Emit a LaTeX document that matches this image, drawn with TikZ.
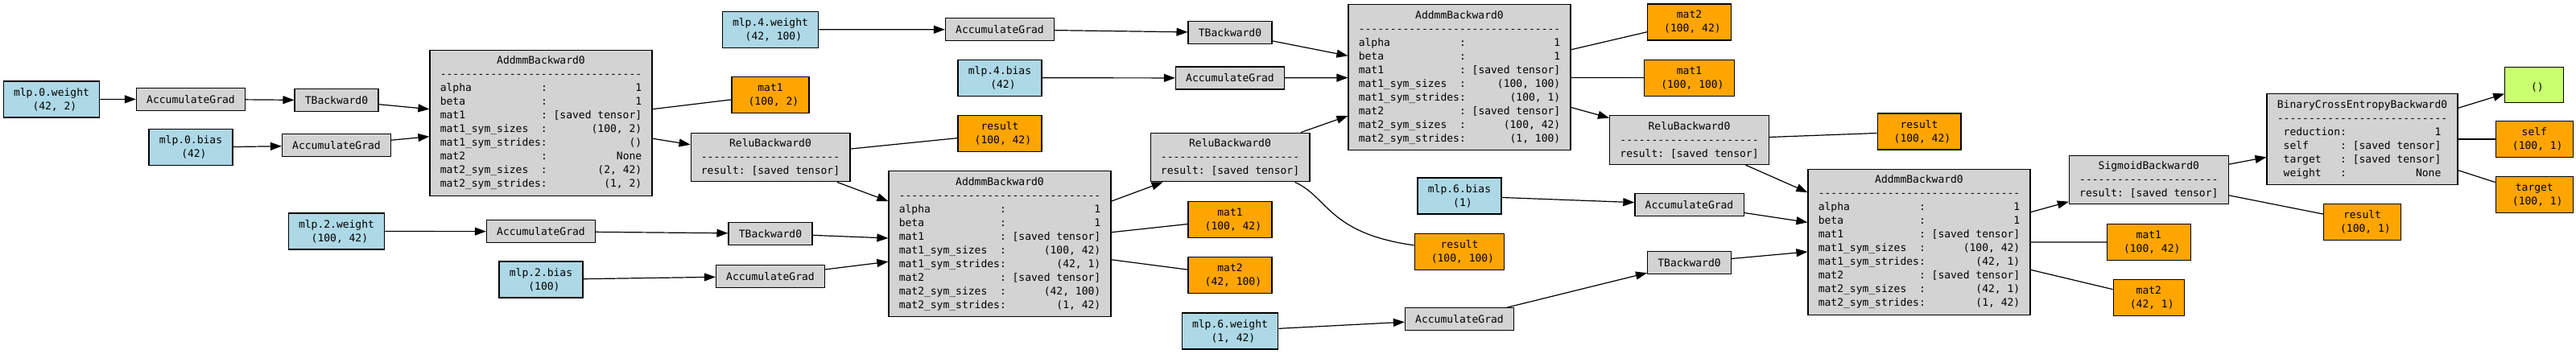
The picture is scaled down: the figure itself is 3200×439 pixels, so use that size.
\documentclass[tikz,border=0pt]{standalone}
\usepackage{fontspec}
\setmonofont{DejaVu Sans Mono}
\usepackage{xcolor}
\usepackage{tikz}
\usetikzlibrary{arrows.meta}

\definecolor{gvgray}{HTML}{D3D3D3}
\definecolor{gvblue}{HTML}{ADD8E6}
\definecolor{gvorange}{HTML}{FFA500}
\definecolor{gvgreen}{HTML}{CAFF70}

\newcommand\gvfont{\ttfamily\fontsize{13}{17}\selectfont}
\newlength\cw
\newcommand\tsize[1]{\hspace*{\cw}#1}
\newcommand\dashes[1]{\foreach \i in {1,...,#1}{-}}
\newcommand\arow[2]{\makebox[16\cw][l]{#1}:\makebox[15\cw][r]{#2}}
\newcommand\brow[2]{\makebox[9\cw][l]{#1}:\makebox[15\cw][r]{#2}}

\tikzset{
  gvbox/.style={
    draw, line width=1.2pt, align=center, font=\gvfont,
    inner xsep=12.8pt, inner ysep=7.5pt, minimum width=72.5pt
  },
  gradbox/.style={gvbox, fill=gvgray, minimum height=28pt},
  leafbox/.style={gvbox, fill=gvblue, minimum height=45pt},
  savedbox/.style={gvbox, fill=gvorange, minimum height=45pt},
  outbox/.style={gvbox, fill=gvgreen, minimum height=44pt},
  gvarrow/.style={-{Triangle[length=14pt,width=10pt]}, line width=1.2pt},
  gvline/.style={line width=1.2pt},
}

\begin{document}
\settowidth\cw{\gvfont 0}
\begin{tikzpicture}[x=1pt, y=-1pt]
  \useasboundingbox (0,0) rectangle (3200,439);

  % Layer 0
  \node[leafbox] (leaf0w) at (64,123.5) {mlp.0.weight\\\tsize{(42, 2)}};
  \node[gradbox] (ag0w) at (237,123.3) {AccumulateGrad};
  \node[gradbox] (tb0) at (418,124.7) {TBackward0};
  \node[leafbox] (leaf0b) at (237,183.3) {mlp.0.bias\\\tsize{(42)}};
  \node[gradbox] (ag0b) at (418,180.7) {AccumulateGrad};
  \node[gradbox] (addmm0) at (672,152.7) {AddmmBackward0\\\dashes{32}\\
    \arow{alpha}{1}\\\arow{beta}{1}\\\arow{mat1}{[saved tensor]}\\
    \arow{mat1\_sym\_sizes}{(100, 2)}\\\arow{mat1\_sym\_strides}{()}\\
    \arow{mat2}{None}\\\arow{mat2\_sym\_sizes}{(2, 42)}\\
    \arow{mat2\_sym\_strides}{(1, 2)}};
  \node[savedbox] (sv0mat1) at (957,118) {mat1\\\tsize{(100, 2)}};
  \node[gradbox] (relu0) at (957,195.5) {ReluBackward0\\\dashes{22}\\result: [saved tensor]};
  \node[savedbox] (sv0res) at (1242,166.3) {result\\\tsize{(100, 42)}};

  % Layer 2
  \node[leafbox] (leaf2w) at (418,287.5) {mlp.2.weight\\\tsize{(100, 42)}};
  \node[gradbox] (ag2w) at (672,287.7) {AccumulateGrad};
  \node[gradbox] (tb2) at (957,290.3) {TBackward0};
  \node[leafbox] (leaf2b) at (672,347.5) {mlp.2.bias\\\tsize{(100)}};
  \node[gradbox] (ag2b) at (957,343.3) {AccumulateGrad};
  \node[gradbox] (addmm2) at (1242,303.3) {AddmmBackward0\\\dashes{32}\\
    \arow{alpha}{1}\\\arow{beta}{1}\\\arow{mat1}{[saved tensor]}\\
    \arow{mat1\_sym\_sizes}{(100, 42)}\\\arow{mat1\_sym\_strides}{(42, 1)}\\
    \arow{mat2}{[saved tensor]}\\\arow{mat2\_sym\_sizes}{(42, 100)}\\
    \arow{mat2\_sym\_strides}{(1, 42)}};
  \node[savedbox] (sv2mat1) at (1528,272.8) {mat1\\\tsize{(100, 42)}};
  \node[savedbox] (sv2mat2) at (1528,342) {mat2\\\tsize{(42, 100)}};
  \node[gradbox] (relu2) at (1528,195.5) {ReluBackward0\\\dashes{22}\\result: [saved tensor]};
  \node[savedbox] (sv2res) at (1813,312.8) {result\\\tsize{(100, 100)}};

  % Layer 4
  \node[leafbox] (leaf4w) at (957,36.8) {mlp.4.weight\\\tsize{(42, 100)}};
  \node[gradbox] (ag4w) at (1242,36.7) {AccumulateGrad};
  \node[gradbox] (tb4) at (1528,40.6) {TBackward0};
  \node[leafbox] (leaf4b) at (1242,96.7) {mlp.4.bias\\\tsize{(42)}};
  \node[gradbox] (ag4b) at (1528,97) {AccumulateGrad};
  \node[gradbox] (addmm4) at (1813,96.3) {AddmmBackward0\\\dashes{32}\\
    \arow{alpha}{1}\\\arow{beta}{1}\\\arow{mat1}{[saved tensor]}\\
    \arow{mat1\_sym\_sizes}{(100, 100)}\\\arow{mat1\_sym\_strides}{(100, 1)}\\
    \arow{mat2}{[saved tensor]}\\\arow{mat2\_sym\_sizes}{(100, 42)}\\
    \arow{mat2\_sym\_strides}{(1, 100)}};
  \node[savedbox] (sv4mat2) at (2098.5,27.5) {mat2\\\tsize{(100, 42)}};
  \node[savedbox] (sv4mat1) at (2098.5,96.7) {mat1\\\tsize{(100, 100)}};
  \node[gradbox] (relu4) at (2098.5,174.2) {ReluBackward0\\\dashes{22}\\result: [saved tensor]};
  \node[savedbox] (sv4res) at (2384,163.5) {result\\\tsize{(100, 42)}};

  % Layer 6
  \node[leafbox] (leaf6w) at (1528,411.5) {mlp.6.weight\\\tsize{(1, 42)}};
  \node[gradbox] (ag6w) at (1813,396.7) {AccumulateGrad};
  \node[gradbox] (tb6) at (2098.5,326.3) {TBackward0};
  \node[leafbox] (leaf6b) at (1813,243.5) {mlp.6.bias\\\tsize{(1)}};
  \node[gradbox] (ag6b) at (2098.5,254.2) {AccumulateGrad};
  \node[gradbox] (addmm6) at (2384,300.8) {AddmmBackward0\\\dashes{32}\\
    \arow{alpha}{1}\\\arow{beta}{1}\\\arow{mat1}{[saved tensor]}\\
    \arow{mat1\_sym\_sizes}{(100, 42)}\\\arow{mat1\_sym\_strides}{(42, 1)}\\
    \arow{mat2}{[saved tensor]}\\\arow{mat2\_sym\_sizes}{(42, 1)}\\
    \arow{mat2\_sym\_strides}{(1, 42)}};
  \node[savedbox] (sv6mat1) at (2669.3,301) {mat1\\\tsize{(100, 42)}};
  \node[savedbox] (sv6mat2) at (2669.3,370.3) {mat2\\\tsize{(42, 1)}};

  % Sigmoid and loss
  \node[gradbox] (sigmoid) at (2669.3,223.5) {SigmoidBackward0\\\dashes{22}\\result: [saved tensor]};
  \node[savedbox] (sv7res) at (2934.5,275.7) {result\\\tsize{(100, 1)}};
  \node[gradbox] (bce) at (2934.5,173) {BinaryCrossEntropyBackward0\\\dashes{27}\\
    \brow{reduction}{1}\\\brow{self}{[saved tensor]}\\
    \brow{target}{[saved tensor]}\\\brow{weight}{None}};
  \node[outbox] (out) at (3148,105.2) {\mbox{}\\\tsize{()}};
  \node[savedbox] (svself) at (3148.3,173) {self\\\tsize{(100, 1)}};
  \node[savedbox] (svtarget) at (3148.3,242.2) {target\\\tsize{(100, 1)}};

  % Gradient flow
  \draw[gvarrow] (leaf0w) -- (ag0w);
  \draw[gvarrow] (ag0w) -- (tb0);
  \draw[gvarrow] (tb0) -- (addmm0.173);
  \draw[gvarrow] (leaf0b) -- (ag0b);
  \draw[gvarrow] (ag0b) -- (addmm0.-173);
  \draw[gvarrow] (addmm0.-8) -- (relu0.171);
  \draw[gvarrow] (relu0) -- (addmm2.159);
  \draw[gvarrow] (leaf2w) -- (ag2w);
  \draw[gvarrow] (ag2w) -- (tb2);
  \draw[gvarrow] (tb2) -- (addmm2.177);
  \draw[gvarrow] (leaf2b) -- (ag2b);
  \draw[gvarrow] (ag2b) -- (addmm2.-171);
  \draw[gvarrow] (addmm2.21) -- (relu2);
  \draw[gvarrow] (leaf4w) -- (ag4w);
  \draw[gvarrow] (ag4w) -- (tb4);
  \draw[gvarrow] (tb4) -- (addmm4.169);
  \draw[gvarrow] (leaf4b) -- (ag4b);
  \draw[gvarrow] (ag4b) -- (addmm4);
  \draw[gvarrow] (relu2) -- (addmm4.-161);
  \draw[gvarrow] (addmm4.-15) -- (relu4);
  \draw[gvarrow] (relu4) -- (addmm6.156);
  \draw[gvarrow] (leaf6b) -- (ag6b);
  \draw[gvarrow] (ag6b) -- (addmm6.170);
  \draw[gvarrow] (leaf6w) -- (ag6w);
  \draw[gvarrow] (ag6w) -- (tb6);
  \draw[gvarrow] (tb6) -- (addmm6.-175);
  \draw[gvarrow] (addmm6.15) -- (sigmoid);
  \draw[gvarrow] (sigmoid.11) -- (bce);
  \draw[gvarrow] (bce.18) -- (out);

  % Saved tensors
  \draw[gvline] (addmm0.7) -- (sv0mat1);
  \draw[gvline] (relu0.6) -- (sv0res);
  \draw[gvline] (addmm2.6) -- (sv2mat1);
  \draw[gvline] (addmm2.-8) -- (sv2mat2);
  \draw[gvline] (relu2.-21.5) .. controls (1650,245) and (1650,290) .. (sv2res.172);
  \draw[gvline] (addmm4.14) -- (sv4mat2);
  \draw[gvline] (addmm4) -- (sv4mat1);
  \draw[gvline] (relu4) -- (sv4res);
  \draw[gvline] (addmm6) -- (sv6mat1);
  \draw[gvline] (addmm6.-14) -- (sv6mat2);
  \draw[gvline] (sigmoid.-11) -- (sv7res);
  \draw[gvline] (bce) -- (svself);
  \draw[gvline] (bce.-18) -- (svtarget);
\end{tikzpicture}
\end{document}
